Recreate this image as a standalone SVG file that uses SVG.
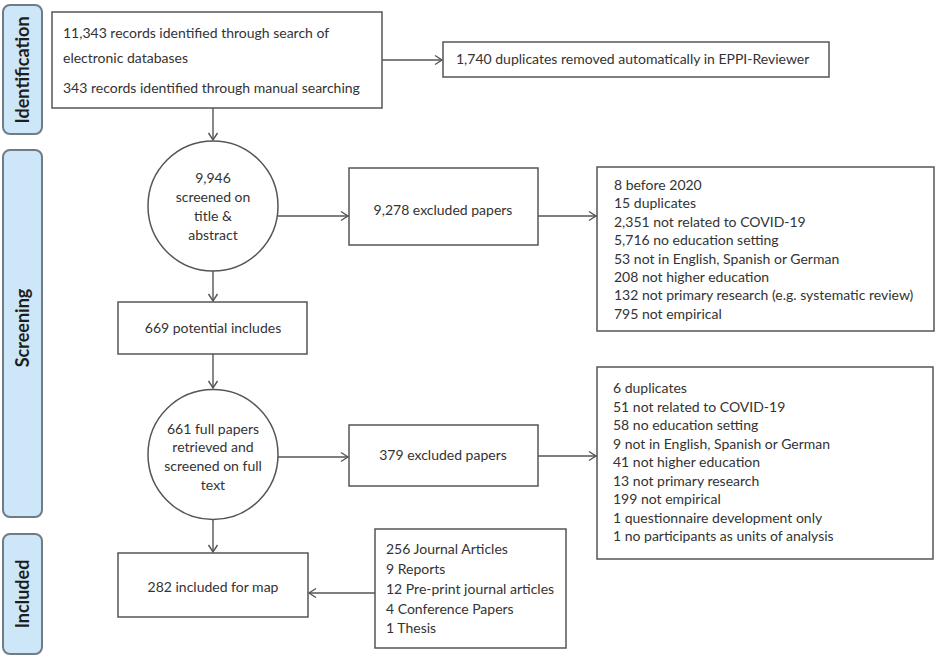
<svg xmlns="http://www.w3.org/2000/svg" width="938" height="659" viewBox="0 0 938 659">
<style>
.bg{fill:#ffffff}
.phase{fill:#cde7f9;stroke:#6e7c87;stroke-width:2}
.phase-t{font-family:Lato,"Liberation Sans",sans-serif;font-weight:bold;font-size:18px;fill:#1e1e1e;text-anchor:middle}
.box{fill:#ffffff;stroke:#555555;stroke-width:1.5}
.t{font-family:Lato,"Liberation Sans",sans-serif;font-size:14px;fill:#333333}
.c{text-anchor:middle}
.conn line{stroke:#555555;stroke-width:1.4;marker-end:url(#arr)}
</style>
<defs>
<marker id="arr" markerUnits="userSpaceOnUse" markerWidth="12" markerHeight="12" refX="9" refY="6" orient="auto">
<path d="M2,1.5 L9,6 L2,10.5" fill="none" stroke="#555555" stroke-width="1.4"/>
</marker>
</defs>
<rect class="bg" x="0" y="0" width="938" height="659"/>

<g id="phase-identification">
<rect class="phase" x="3" y="5" width="39" height="129" rx="7"/>
<text class="phase-t" transform="translate(29,70) rotate(-90)">Identification</text>
</g>
<g id="phase-screening">
<rect class="phase" x="3" y="150" width="39" height="367" rx="7"/>
<text class="phase-t" transform="translate(29,328) rotate(-90)">Screening</text>
</g>
<g id="phase-included">
<rect class="phase" x="3" y="534" width="39" height="120" rx="7"/>
<text class="phase-t" transform="translate(29,594) rotate(-90)">Included</text>
</g>

<g id="records">
<rect class="box" x="52" y="12" width="330" height="96"/>
<text class="t" x="63" y="38">11,343 records identified through search of</text>
<text class="t" x="63" y="63">electronic databases</text>
<text class="t" x="63" y="93">343 records identified through manual searching</text>
</g>
<g id="duplicates">
<rect class="box" x="443" y="42" width="386" height="35"/>
<text class="t" x="456" y="64">1,740 duplicates removed automatically in EPPI-Reviewer</text>
</g>
<g id="screened">
<circle class="box" cx="213" cy="206" r="65"/>
<text class="t c" x="213" y="183">9,946</text>
<text class="t c" x="213" y="202">screened on</text>
<text class="t c" x="213" y="221">title &amp;</text>
<text class="t c" x="213" y="240">abstract</text>
</g>
<g id="excluded1">
<rect class="box" x="349" y="168" width="189" height="77"/>
<text class="t c" x="443" y="215">9,278 excluded papers</text>
</g>
<g id="reasons1">
<rect class="box" x="597" y="167" width="337" height="164"/>
<text class="t" x="614" y="190">8 before 2020</text>
<text class="t" x="614" y="208.4">15 duplicates</text>
<text class="t" x="614" y="226.8">2,351 not related to COVID-19</text>
<text class="t" x="614" y="245.2">5,716 no education setting</text>
<text class="t" x="614" y="263.6">53 not in English, Spanish or German</text>
<text class="t" x="614" y="282">208 not higher education</text>
<text class="t" x="614" y="300.4">132 not primary research (e.g. systematic review)</text>
<text class="t" x="614" y="318.8">795 not empirical</text>
</g>
<g id="potential">
<rect class="box" x="118" y="302" width="189" height="52"/>
<text class="t c" x="213" y="333">669 potential includes</text>
</g>
<g id="fulltext">
<circle class="box" cx="213" cy="454.5" r="65"/>
<text class="t c" x="213" y="434">661 full papers</text>
<text class="t c" x="213" y="452">retrieved and</text>
<text class="t c" x="213" y="471">screened on full</text>
<text class="t c" x="213" y="490">text</text>
</g>
<g id="excluded2">
<rect class="box" x="349" y="425" width="189" height="61"/>
<text class="t c" x="443" y="460">379 excluded papers</text>
</g>
<g id="reasons2">
<rect class="box" x="597" y="367" width="336" height="192"/>
<text class="t" x="613" y="393">6 duplicates</text>
<text class="t" x="613" y="411.5">51 not related to COVID-19</text>
<text class="t" x="613" y="430">58 no education setting</text>
<text class="t" x="613" y="448.5">9 not in English, Spanish or German</text>
<text class="t" x="613" y="467">41 not higher education</text>
<text class="t" x="613" y="485.5">13 not primary research</text>
<text class="t" x="613" y="504">199 not empirical</text>
<text class="t" x="613" y="522.5">1 questionnaire development only</text>
<text class="t" x="613" y="541">1 no participants as units of analysis</text>
</g>
<g id="included">
<rect class="box" x="118" y="553" width="190" height="64"/>
<text class="t c" x="213" y="592">282 included for map</text>
</g>
<g id="types">
<rect class="box" x="375" y="529" width="191" height="119"/>
<text class="t" x="386" y="554">256 Journal Articles</text>
<text class="t" x="386" y="574">9 Reports</text>
<text class="t" x="386" y="594">12 Pre-print journal articles</text>
<text class="t" x="386" y="614">4 Conference Papers</text>
<text class="t" x="386" y="633">1 Thesis</text>
</g>

<g id="connectors" class="conn">
<line x1="382" y1="60" x2="442" y2="60"/>
<line x1="213" y1="108" x2="213" y2="140"/>
<line x1="278" y1="216" x2="348" y2="216"/>
<line x1="538" y1="216" x2="596" y2="216"/>
<line x1="213" y1="271" x2="213" y2="301"/>
<line x1="213" y1="354" x2="213" y2="388"/>
<line x1="278" y1="457" x2="348" y2="457"/>
<line x1="538" y1="456" x2="596" y2="456"/>
<line x1="213" y1="520" x2="213" y2="552"/>
<line x1="375" y1="593" x2="309" y2="593"/>
</g>
</svg>
